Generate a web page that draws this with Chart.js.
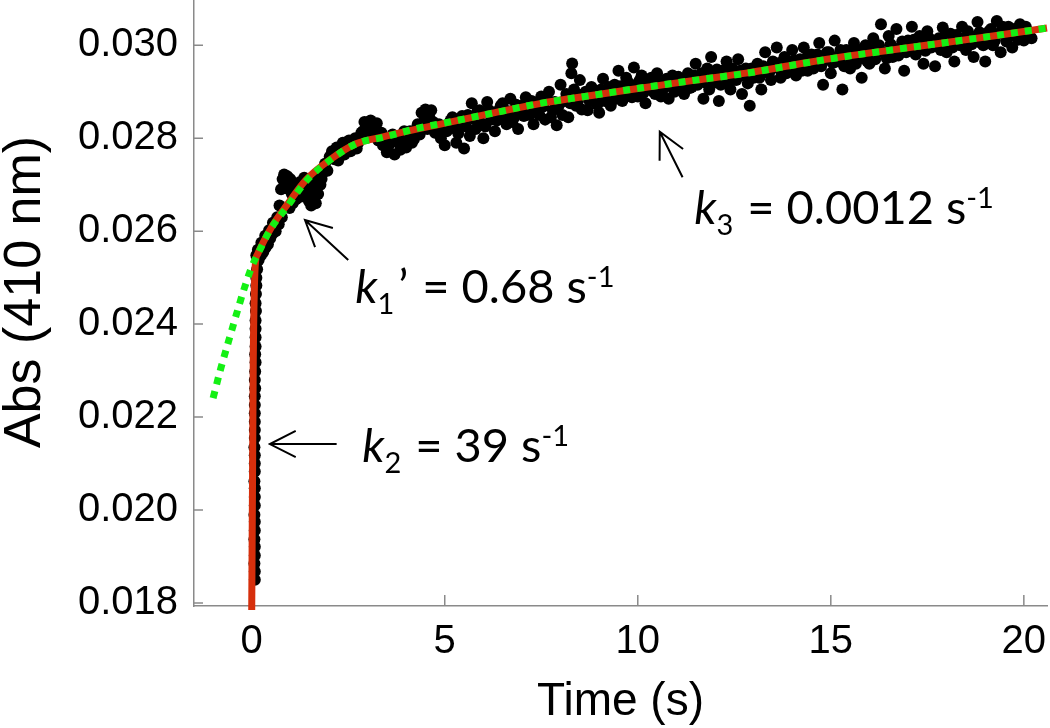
<!DOCTYPE html>
<html>
<head>
<meta charset="utf-8">
<script src="https://cdn.jsdelivr.net/npm/chart.js@4.4.1/dist/chart.umd.min.js"></script>
<style>
  html, body { margin: 0; padding: 0; background: #fff; }
  #chart { display: block; }
</style>
</head>
<body>
<canvas id="chart" width="1050" height="728"></canvas>
<script>
// measured trace, [time (s), Abs 410 nm]
const trace = [
  // fast phase (k2)
  [0.08, 0.01850], [0.08, 0.01868], [0.07, 0.01885], [0.08, 0.01902], [0.08, 0.01921], [0.07, 0.01937],
  [0.08, 0.01956], [0.08, 0.01975], [0.07, 0.01990], [0.08, 0.02010], [0.08, 0.02028], [0.08, 0.02047],
  [0.07, 0.02062], [0.08, 0.02083], [0.08, 0.02100], [0.08, 0.02118], [0.07, 0.02135], [0.08, 0.02155],
  [0.08, 0.02172], [0.08, 0.02190], [0.08, 0.02208], [0.08, 0.02226], [0.08, 0.02245], [0.09, 0.02262],
  [0.08, 0.02280], [0.09, 0.02298], [0.10, 0.02318], [0.09, 0.02335], [0.10, 0.02352], [0.10, 0.02372],
  [0.10, 0.02390], [0.10, 0.02408], [0.11, 0.02428], [0.10, 0.02445], [0.11, 0.02465], [0.12, 0.02483],
  [0.12, 0.02500], [0.14, 0.02518], [0.15, 0.02536],
  // k1' phase
  [0.12, 0.02548], [0.16, 0.02560], [0.20, 0.02552], [0.25, 0.02575], [0.30, 0.02566], [0.35, 0.02590],
  [0.40, 0.02578], [0.45, 0.02602], [0.50, 0.02596], [0.55, 0.02618], [0.60, 0.02610], [0.66, 0.02630],
  [0.72, 0.02655], [0.76, 0.02690], [0.80, 0.02712], [0.84, 0.02722], [0.88, 0.02700], [0.92, 0.02718],
  [0.96, 0.02690], [1.00, 0.02712], [1.04, 0.02680], [1.08, 0.02700], [1.12, 0.02676], [1.18, 0.02695],
  [1.24, 0.02705], [1.30, 0.02690], [1.36, 0.02715], [1.42, 0.02700], [1.48, 0.02665], [1.54, 0.02655],
  [1.60, 0.02670], [1.66, 0.02660], [1.72, 0.02680], [1.78, 0.02700], [1.84, 0.02725], [1.90, 0.02745],
  [1.96, 0.02730], [2.02, 0.02760], [2.08, 0.02772], [2.14, 0.02755], [2.20, 0.02780],
  [2.28, 0.02768], [2.36, 0.02790], [2.44, 0.02778], [2.52, 0.02795], [2.60, 0.02782], [2.68, 0.02800],
  [2.76, 0.02790], [2.84, 0.02812], [2.92, 0.02835], [3.00, 0.02825], [3.08, 0.02838], [3.16, 0.02820],
  [3.24, 0.02832], [3.32, 0.02805], [3.40, 0.02785], [3.50, 0.02770], [3.60, 0.02795], [3.70, 0.02765],
  [3.80, 0.02790], [3.90, 0.02805], [4.00, 0.02780], [4.10, 0.02815], [4.20, 0.02798], [4.30, 0.02830],
  [4.40, 0.02855], [4.50, 0.02862], [4.60, 0.02845], [4.70, 0.02835], [4.80, 0.02815], [4.90, 0.02800],
  // k3 phase
  [5.00, 0.02785], [5.10, 0.02820], [5.20, 0.02845], [5.30, 0.02790], [5.40, 0.02830], [5.50, 0.02778],
  [5.60, 0.02850], [5.70, 0.02875], [5.80, 0.02820], [5.90, 0.02860], [6.00, 0.02800], [6.10, 0.02878],
  [6.20, 0.02840], [6.30, 0.02815], [6.40, 0.02860], [6.50, 0.02875], [6.60, 0.02830], [6.70, 0.02885],
  [6.80, 0.02845], [6.90, 0.02820], [7.00, 0.02870], [7.10, 0.02888], [7.20, 0.02850], [7.30, 0.02830],
  [7.40, 0.02875], [7.50, 0.02890], [7.60, 0.02840], [7.70, 0.02900], [7.80, 0.02860], [7.90, 0.02828],
  [8.00, 0.02915], [8.10, 0.02880], [8.20, 0.02845], [8.28, 0.02940], [8.30, 0.02961], [8.35, 0.02905],
  [8.40, 0.02870], [8.50, 0.02925], [8.60, 0.02895], [8.70, 0.02860], [8.80, 0.02910], [8.90, 0.02880],
  [9.00, 0.02855], [9.10, 0.02928], [9.20, 0.02890], [9.30, 0.02870], [9.40, 0.02915], [9.50, 0.02945],
  [9.60, 0.02880], [9.70, 0.02930], [9.80, 0.02905], [9.90, 0.02952], [10.00, 0.02890], [10.10, 0.02935],
  [10.20, 0.02875], [10.30, 0.02920], [10.40, 0.02900], [10.50, 0.02940], [10.60, 0.02890], [10.70, 0.02915],
  [10.80, 0.02885], [10.90, 0.02935], [11.00, 0.02905], [11.10, 0.02925], [11.20, 0.02895], [11.30, 0.02940],
  [11.40, 0.02910], [11.50, 0.02960], [11.60, 0.02930], [11.70, 0.02885], [11.80, 0.02950], [11.90, 0.02975],
  [12.00, 0.02920], [12.10, 0.02880], [12.20, 0.02945], [12.30, 0.02965], [12.40, 0.02905], [12.50, 0.02935],
  [12.60, 0.02970], [12.70, 0.02895], [12.80, 0.02950], [12.90, 0.02870], [13.00, 0.02930], [13.10, 0.02960],
  [13.20, 0.02905], [13.30, 0.02985], [13.40, 0.02940], [13.50, 0.02965], [13.60, 0.02995], [13.70, 0.02930],
  [13.80, 0.02975], [13.90, 0.02950], [14.00, 0.02990], [14.10, 0.02935], [14.20, 0.02970], [14.30, 0.02995],
  [14.40, 0.02945], [14.50, 0.02980], [14.60, 0.02960], [14.70, 0.03005], [14.80, 0.02915], [14.90, 0.02985],
  [15.00, 0.02940], [15.10, 0.03010], [15.20, 0.02965], [15.30, 0.02905], [15.40, 0.02990], [15.50, 0.02950],
  [15.60, 0.03005], [15.70, 0.02970], [15.80, 0.02930], [15.90, 0.03000], [16.00, 0.02960], [16.10, 0.03015],
  [16.20, 0.02985], [16.30, 0.03045], [16.40, 0.02950], [16.50, 0.03020], [16.60, 0.02975], [16.70, 0.03035],
  [16.80, 0.02995], [16.90, 0.02945], [17.00, 0.03010], [17.10, 0.03040], [17.20, 0.02980], [17.30, 0.03020],
  [17.40, 0.02960], [17.50, 0.03030], [17.60, 0.02995], [17.70, 0.02955], [17.80, 0.03015], [17.90, 0.03038],
  [18.00, 0.02985], [18.10, 0.03025], [18.20, 0.02965], [18.30, 0.03010], [18.40, 0.03040], [18.50, 0.02990],
  [18.60, 0.03020], [18.70, 0.02975], [18.80, 0.03050], [18.90, 0.03005], [19.00, 0.02965], [19.10, 0.03030],
  [19.20, 0.03000], [19.30, 0.03052], [19.40, 0.02985], [19.50, 0.03025], [19.60, 0.03040], [19.70, 0.02995],
  [19.80, 0.03020], [19.90, 0.03045], [20.00, 0.03010], [20.10, 0.03030], [20.20, 0.03015]
];

// readings in between the ones above (the band is dense)
const traceMid = [
  [0.18, 0.02538], [0.24, 0.02548], [0.30, 0.02555], [0.36, 0.02565], [0.42, 0.02572], [0.48, 0.02585],
  [0.54, 0.02595], [0.62, 0.02600], [0.70, 0.02615], [0.78, 0.02630],
  [0.98, 0.02650], [1.06, 0.02660], [1.14, 0.02668], [1.20, 0.02672], [1.26, 0.02680], [1.32, 0.02675],
  [1.38, 0.02685], [1.45, 0.02690], [1.51, 0.02680], [1.57, 0.02690], [1.63, 0.02705], [1.69, 0.02700],
  [1.75, 0.02720], [1.81, 0.02712], [1.87, 0.02730],
  [2.24, 0.02752], [2.32, 0.02780], [2.40, 0.02765], [2.48, 0.02785], [2.56, 0.02772], [2.64, 0.02792],
  [2.72, 0.02778], [2.80, 0.02798], [2.88, 0.02815], [2.96, 0.02808], [3.04, 0.02818], [3.12, 0.02805],
  [3.20, 0.02812], [3.28, 0.02795], [3.36, 0.02812], [3.45, 0.02798], [3.55, 0.02785], [3.65, 0.02808],
  [3.75, 0.02795], [3.85, 0.02775], [3.95, 0.02815], [4.05, 0.02798], [4.15, 0.02790], [4.25, 0.02818],
  [4.35, 0.02808], [4.45, 0.02835], [4.55, 0.02820], [4.65, 0.02860], [4.75, 0.02812], [4.85, 0.02830],
  [4.95, 0.02820],
  [5.05, 0.02815], [5.15, 0.02838], [5.25, 0.02822], [5.35, 0.02810], [5.45, 0.02848], [5.55, 0.02825],
  [5.65, 0.02805], [5.75, 0.02842], [5.85, 0.02858], [5.95, 0.02832], [6.05, 0.02825], [6.15, 0.02860],
  [6.25, 0.02845], [6.35, 0.02838], [6.45, 0.02870], [6.55, 0.02848], [6.65, 0.02858], [6.75, 0.02835],
  [6.85, 0.02872], [6.95, 0.02855], [7.05, 0.02848], [7.15, 0.02865], [7.25, 0.02880], [7.35, 0.02858],
  [7.45, 0.02850], [7.55, 0.02868], [7.65, 0.02885], [7.75, 0.02845], [7.85, 0.02878], [7.95, 0.02870],
  [8.05, 0.02850], [8.15, 0.02895], [8.25, 0.02875], [8.45, 0.02880], [8.55, 0.02862], [8.65, 0.02900],
  [8.75, 0.02880], [8.85, 0.02895], [8.95, 0.02872], [9.05, 0.02905], [9.15, 0.02880], [9.25, 0.02910],
  [9.35, 0.02895], [9.45, 0.02885], [9.55, 0.02912], [9.65, 0.02900], [9.75, 0.02920], [9.85, 0.02888],
  [9.95, 0.02915], [10.05, 0.02925], [10.15, 0.02898], [10.25, 0.02910], [10.35, 0.02930], [10.45, 0.02895],
  [10.55, 0.02918], [10.65, 0.02905], [10.75, 0.02928], [10.85, 0.02912], [10.95, 0.02900], [11.05, 0.02932],
  [11.15, 0.02910], [11.25, 0.02922], [11.35, 0.02908], [11.45, 0.02935], [11.55, 0.02915], [11.65, 0.02940],
  [11.75, 0.02920], [11.85, 0.02905], [11.95, 0.02938], [12.05, 0.02948], [12.15, 0.02915], [12.25, 0.02930],
  [12.35, 0.02920], [12.45, 0.02950], [12.55, 0.02925], [12.65, 0.02945], [12.75, 0.02935], [12.85, 0.02918],
  [12.95, 0.02950], [13.05, 0.02940], [13.15, 0.02930], [13.25, 0.02955], [13.35, 0.02945], [13.45, 0.02925],
  [13.55, 0.02960], [13.65, 0.02950], [13.75, 0.02965], [13.85, 0.02940], [13.95, 0.02955], [14.05, 0.02968],
  [14.15, 0.02950], [14.25, 0.02945], [14.35, 0.02972], [14.45, 0.02960], [14.55, 0.02950], [14.65, 0.02980],
  [14.75, 0.02955], [14.85, 0.02968], [14.95, 0.02985], [15.05, 0.02962], [15.15, 0.02975], [15.25, 0.02990],
  [15.35, 0.02955], [15.45, 0.02972], [15.55, 0.02985], [15.65, 0.02960], [15.75, 0.02990], [15.85, 0.02975],
  [15.95, 0.02965], [16.05, 0.02992], [16.15, 0.02970], [16.25, 0.03000], [16.35, 0.02985], [16.45, 0.02972],
  [16.55, 0.03002], [16.65, 0.02990], [16.75, 0.02978], [16.85, 0.03008], [16.95, 0.02985], [17.05, 0.02995],
  [17.15, 0.03012], [17.25, 0.02990], [17.35, 0.03005], [17.45, 0.02988], [17.55, 0.03015], [17.65, 0.02998],
  [17.75, 0.03010], [17.85, 0.02990], [17.95, 0.03020], [18.05, 0.03005], [18.15, 0.02995], [18.25, 0.03022],
  [18.35, 0.03000], [18.45, 0.03015], [18.55, 0.03030], [18.65, 0.03002], [18.75, 0.03018], [18.85, 0.03028],
  [18.95, 0.03000], [19.05, 0.03015], [19.15, 0.03035], [19.25, 0.03010], [19.35, 0.03025], [19.45, 0.03040],
  [19.55, 0.03008], [19.65, 0.03022], [19.75, 0.03035], [19.85, 0.03012], [19.95, 0.03028], [20.05, 0.03040],
  [20.15, 0.03020]
];

// three-exponential fit (red, solid)
const fitFull = [
  [0, 0.01785], [0.02, 0.0205], [0.04, 0.0232], [0.07, 0.0248], [0.1, 0.02535], [0.15, 0.0255],
  [0.25, 0.02568], [0.4, 0.02592], [0.6, 0.0262], [0.9, 0.02655], [1.4, 0.0271], [2.0, 0.02752],
  [2.7, 0.02788], [3.4, 0.02803], [4.3, 0.0282], [5.1, 0.02834], [6.3, 0.02855], [7.5, 0.02875],
  [8.8, 0.02892], [10.1, 0.02908], [11.5, 0.02925], [12.8, 0.0294], [14.0, 0.02957], [15.2, 0.02974],
  [16.5, 0.02989], [17.8, 0.03004], [19.2, 0.0302], [20.6, 0.03037]
];

// slow phases only, extrapolated back (green, dotted)
const fitSlow = [
  [-1.0, 0.02241], [-0.8, 0.02305], [-0.6, 0.02363], [-0.4, 0.0242], [-0.2, 0.02475], [0, 0.02523],
  [0.2, 0.02558], [0.47, 0.02602], [0.91, 0.02652], [1.43, 0.0271], [2.03, 0.02753], [2.73, 0.02789],
  [3.41, 0.02802], [4.28, 0.02821], [5.06, 0.02834], [6.3, 0.02855], [7.47, 0.02875], [8.8, 0.02892],
  [10.06, 0.02908], [11.5, 0.02925], [12.84, 0.0294], [14.0, 0.02957], [15.24, 0.02974], [16.5, 0.02989],
  [17.83, 0.03004], [19.2, 0.0302], [20.6, 0.03037]
];

const xTicks = [0, 5, 10, 15, 20];
const yTicks = [0.018, 0.020, 0.022, 0.024, 0.026, 0.028, 0.030];

// rate constant labels: text anchor and arrow (tip, tail) in data units
const rateLabels = [
  { name: '2', value: '= 39 s', prime: '', at: [2.86, 0.02103], tip: [0.47, 0.02142], tail: [2.2, 0.02142] },
  { name: '1', value: '= 0.68 s', prime: '\u2019', at: [2.68, 0.02445], tip: [1.38, 0.02624], tail: [2.5, 0.02538] },
  { name: '3', value: '= 0.0012 s', prime: '', at: [11.46, 0.02615], tip: [10.57, 0.02814], tail: [11.16, 0.02716] }
];

const axisGrey = '#8a8a8a';
const toXY = arr => arr.map(p => ({ x: p[0], y: p[1] }));

const inwardTicks = {
  id: 'inwardTicks',
  beforeDatasetsDraw(chart) {
    const { ctx, chartArea: a, scales: { x, y } } = chart;
    ctx.save();
    ctx.strokeStyle = axisGrey;
    ctx.lineWidth = 1.5;
    ctx.beginPath();
    xTicks.forEach(v => {
      const px = x.getPixelForValue(v);
      ctx.moveTo(px, a.bottom);
      ctx.lineTo(px, a.bottom - 11);
    });
    yTicks.forEach(v => {
      const py = y.getPixelForValue(v);
      ctx.moveTo(a.left, py);
      ctx.lineTo(a.left + 9, py);
    });
    ctx.stroke();
    ctx.restore();
  },
  afterDraw(chart) {
    // y title, sits a little above the middle of the axis in the original
    const { ctx } = chart;
    ctx.save();
    ctx.translate(40, 292);
    ctx.rotate(-Math.PI / 2);
    ctx.font = '52px "Liberation Sans", Arial, sans-serif';
    ctx.fillStyle = '#000';
    ctx.textAlign = 'center';
    ctx.textBaseline = 'alphabetic';
    ctx.fillText('Abs (410 nm)', 0, 0);
    ctx.restore();
  }
};

function drawRich(ctx, x, y, parts) {
  parts.forEach(p => {
    const size = (p.sub || p.sup) ? 29 : 47;
    ctx.font = (p.it ? 'italic ' : '') + size + 'px Lato, "Open Sans", sans-serif';
    const dy = p.sub ? 11 : (p.sup ? -16 : 0);
    x += p.gap || 0;
    ctx.fillText(p.t, x, y + dy);
    x += ctx.measureText(p.t).width;
  });
}

const rateAnnotations = {
  id: 'rateAnnotations',
  afterDatasetsDraw(chart) {
    const { ctx, scales: { x, y } } = chart;
    ctx.save();
    ctx.fillStyle = '#000';
    ctx.strokeStyle = '#000';
    ctx.lineWidth = 2;
    ctx.textBaseline = 'alphabetic';
    ctx.textAlign = 'left';
    rateLabels.forEach(lab => {
      const tx = x.getPixelForValue(lab.tip[0]), ty = y.getPixelForValue(lab.tip[1]);
      const sx = x.getPixelForValue(lab.tail[0]), sy = y.getPixelForValue(lab.tail[1]);
      const ang = Math.atan2(sy - ty, sx - tx);
      const head = 29, spread = 0.47;
      ctx.beginPath();
      ctx.moveTo(sx, sy);
      ctx.lineTo(tx, ty);
      ctx.moveTo(tx + head * Math.cos(ang + spread), ty + head * Math.sin(ang + spread));
      ctx.lineTo(tx, ty);
      ctx.lineTo(tx + head * Math.cos(ang - spread), ty + head * Math.sin(ang - spread));
      ctx.stroke();
      const parts = [{ t: 'k', it: true }, { t: lab.name, sub: true }];
      if (lab.prime) parts.push({ t: lab.prime, gap: 4 });
      parts.push({ t: lab.value, gap: 14 }, { t: '-1', sup: true });
      drawRich(ctx, x.getPixelForValue(lab.at[0]), y.getPixelForValue(lab.at[1]), parts);
    });
    ctx.restore();
  }
};

const axisFont = { family: '"Liberation Sans", Arial, sans-serif' };

new Chart(document.getElementById('chart'), {
  type: 'scatter',
  data: {
    datasets: [
      {
        label: 'slow phases',
        data: toXY(fitSlow),
        showLine: true,
        borderColor: '#14f014',
        borderWidth: 7,
        borderDash: [7, 7],
        borderCapStyle: 'butt',
        cubicInterpolationMode: 'monotone',
        pointRadius: 0,
        order: 0
      },
      {
        label: 'fit',
        data: toXY(fitFull),
        showLine: true,
        borderColor: '#d62f0c',
        borderWidth: 7,
        cubicInterpolationMode: 'monotone',
        pointRadius: 0,
        clip: false,
        order: 1
      },
      {
        label: 'data',
        data: toXY(trace.concat(traceMid)),
        pointRadius: 6,
        pointBackgroundColor: '#000',
        pointBorderWidth: 0,
        order: 2
      }
    ]
  },
  options: {
    responsive: false,
    animation: false,
    devicePixelRatio: 1,
    layout: { autoPadding: false, padding: { top: 0, right: 3, left: 0, bottom: 0 } },
    plugins: { legend: { display: false }, tooltip: { enabled: false } },
    scales: {
      x: {
        type: 'linear',
        min: -1.495,
        max: 20.6,
        grid: { display: false, drawTicks: false },
        border: { display: true, color: axisGrey, width: 1.5 },
        ticks: { color: '#000', padding: 12, font: { ...axisFont, size: 40 } },
        title: { display: true, text: 'Time (s)', color: '#000', font: { ...axisFont, size: 46, lineHeight: 1 }, padding: { top: 0, bottom: 3 } },
        afterBuildTicks: s => { s.ticks = xTicks.map(v => ({ value: v })); },
        afterFit: s => { s.height = 122; s.paddingLeft = 0; s.paddingRight = 0; }
      },
      y: {
        type: 'linear',
        min: 0.017935,
        max: 0.030974,
        grid: { display: false, drawTicks: false },
        border: { display: true, color: axisGrey, width: 1.5 },
        ticks: { color: '#000', padding: 16, font: { ...axisFont, size: 40 }, callback: v => v.toFixed(3) },
        afterBuildTicks: s => { s.ticks = yTicks.map(v => ({ value: v })); },
        afterFit: s => { s.width = 194; s.paddingTop = 0; s.paddingBottom = 0; }
      }
    }
  },
  plugins: [inwardTicks, rateAnnotations]
});
</script>
</body>
</html>
